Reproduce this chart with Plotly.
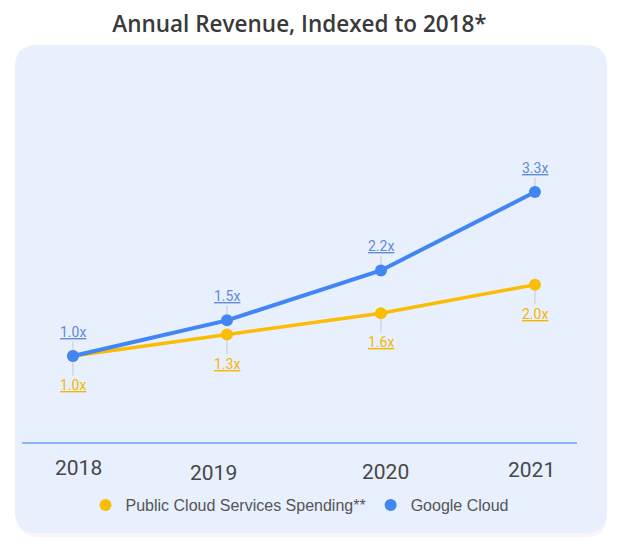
import plotly.graph_objects as go

# ---------------- data ----------------
years = [2018, 2019, 2020, 2021]
year_labels = ["2018", "2019", "2020", "2021"]
public_cloud = [1.0, 1.3, 1.6, 2.0]
google_cloud = [1.0, 1.5, 2.2, 3.3]
public_labels = ["1.0x", "1.3x", "1.6x", "2.0x"]
google_labels = ["1.0x", "1.5x", "2.2x", "3.3x"]
series_names = ["Public Cloud Services Spending**", "Google Cloud"]
title_text = "Annual Revenue, Indexed to 2018*"

# ---------------- style ----------------
OFF = 8  # page body margin
W, H = 622 - OFF, 542 - OFF
# plot area in page pixels: x 22..577, y 100..442
PL, PR, PT, PB = 22, 577, 100, 442
L, R, T, B = PL - OFF, W - (PR - OFF), PT - OFF, H - (PB - OFF)
BLUE = "#4285F4"
YELLOW = "#FBBC04"
BLUE_LBL = "#6289DA"
YELLOW_LBL = "#F5B600"
PANEL = "#E8F0FD"
tick_xshift = [6, -13, 5, -3]
tick_yshift = [-26, -31, -30, -28]

plot_w = PR - PL
plot_h = PB - PT


def px(xpage):
    return (xpage - PL) / plot_w


def py(ypage):
    return (PB - ypage) / plot_h


def rounded_rect(x0, y0, x1, y1, r):
    pts = [
        f"M {px(x0 + r)},{py(y0)}",
        f"L {px(x1 - r)},{py(y0)}",
        f"Q {px(x1)},{py(y0)} {px(x1)},{py(y0 + r)}",
        f"L {px(x1)},{py(y1 - r)}",
        f"Q {px(x1)},{py(y1)} {px(x1 - r)},{py(y1)}",
        f"L {px(x0 + r)},{py(y1)}",
        f"Q {px(x0)},{py(y1)} {px(x0)},{py(y1 - r)}",
        f"L {px(x0)},{py(y0 + r)}",
        f"Q {px(x0)},{py(y0)} {px(x0 + r)},{py(y0)}",
        "Z",
    ]
    return " ".join(pts)


fig = go.Figure()

fig.add_trace(go.Scatter(x=years, y=public_cloud, mode="lines",
                         line=dict(color=YELLOW, width=3.5), showlegend=False,
                         hoverinfo="skip"))
fig.add_trace(go.Scatter(x=years, y=public_cloud, mode="markers",
                         marker=dict(color=YELLOW, size=12), name=series_names[0]))
fig.add_trace(go.Scatter(x=years, y=google_cloud, mode="lines",
                         line=dict(color=BLUE, width=4), showlegend=False,
                         hoverinfo="skip"))
fig.add_trace(go.Scatter(x=years, y=google_cloud, mode="markers",
                         marker=dict(color=BLUE, size=12), name=series_names[1]))

annotations = []
for xv, yv, t in zip(years, google_cloud, google_labels):
    annotations.append(dict(x=xv, y=yv, xref="x", yref="y", text=t,
                            showarrow=True, arrowhead=0, arrowwidth=1,
                            arrowcolor="#C4C8D0", ax=0, ay=-24, standoff=6,
                            font=dict(family="Roboto", size=14, color=BLUE_LBL,
                                      lineposition="under")))
for xv, yv, t in zip(years, public_cloud, public_labels):
    annotations.append(dict(x=xv, y=yv, xref="x", yref="y", text=t,
                            showarrow=True, arrowhead=0, arrowwidth=1,
                            arrowcolor="#C4C8D0", ax=0, ay=29, standoff=6,
                            font=dict(family="Roboto", size=14, color=YELLOW_LBL,
                                      lineposition="under")))
for xv, t, xs, ys in zip(years, year_labels, tick_xshift, tick_yshift):
    annotations.append(dict(x=xv, y=0, xref="x", yref="paper", text=t,
                            showarrow=False, xanchor="center", yanchor="middle",
                            xshift=xs, yshift=ys,
                            font=dict(family="Roboto", size=21, color="#474747")))

shapes = [
    dict(type="path", xref="paper", yref="paper", layer="below",
         path=rounded_rect(17, 49, 607, 537, 22),
         fillcolor="rgba(0,0,0,0.035)", line=dict(width=0)),
    dict(type="path", xref="paper", yref="paper", layer="below",
         path=rounded_rect(15, 45, 607, 533, 22),
         fillcolor=PANEL, line=dict(width=0)),
]

fig.update_layout(
    width=W, height=H,
    margin=dict(l=L, r=R, t=T, b=B),
    paper_bgcolor="white",
    plot_bgcolor="rgba(0,0,0,0)",
    title=dict(text=title_text, x=0.5, xref="paper", xanchor="center",
               y=1 - (24 - OFF) / H, yref="container", yanchor="middle",
               font=dict(family="Open Sans", size=22.5, color="#3a3a3a", weight=600)),
    xaxis=dict(range=[2017.669, 2021.273], showgrid=False, zeroline=False,
               showticklabels=False, ticks="", showline=True,
               linecolor="#8AB4F8", linewidth=2, fixedrange=True),
    yaxis=dict(range=[-0.206, 4.59], visible=False, showgrid=False,
               zeroline=False, fixedrange=True),
    legend=dict(orientation="h", x=0.5, xanchor="center",
                y=py(505), yanchor="middle", bgcolor="rgba(0,0,0,0)",
                font=dict(family="Liberation Sans", size=16, color="#555555")),
    annotations=annotations,
    shapes=shapes,
    showlegend=True,
)

fig.write_html("out.html")
